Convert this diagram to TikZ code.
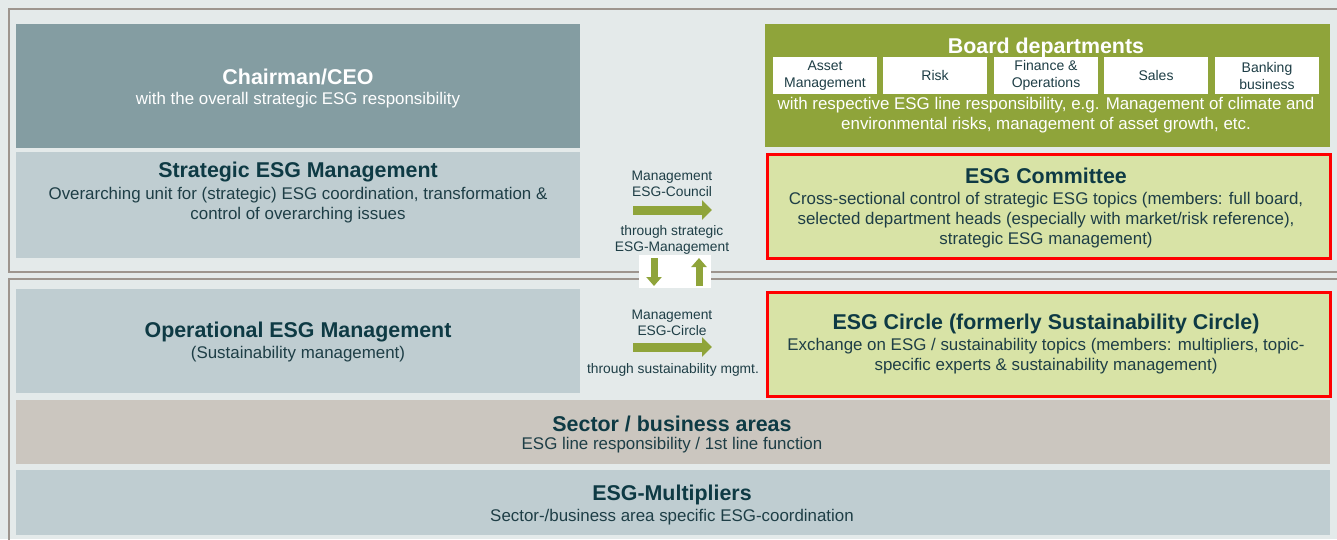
\documentclass[tikz,border=0pt]{standalone}
\usepackage{fontspec}
\setmainfont{Liberation Sans}
\usetikzlibrary{arrows.meta}
\definecolor{bgc}{HTML}{E4EAEA}
\definecolor{framec}{HTML}{9D958E}
\definecolor{chairc}{HTML}{849DA2}
\definecolor{lightc}{HTML}{BFCDD1}
\definecolor{boardc}{HTML}{8FA43A}
\definecolor{commc}{HTML}{D8E3A6}
\definecolor{sectc}{HTML}{CBC6BF}
\definecolor{darkt}{HTML}{0E3A44}
\definecolor{bodyt}{HTML}{1E3E46}
\definecolor{arrc}{HTML}{8FA43A}
\tikzset{
  box/.style={draw=none, inner sep=0pt, anchor=north west},
  redbox/.style={draw=red, line width=3pt, inner sep=0pt, anchor=north west},
  ttl/.style={font=\bfseries\fontsize{21.4}{24}\selectfont, text=darkt, inner sep=0pt},
  bdy/.style={font=\fontsize{16.9}{20}\selectfont, text=bodyt, inner sep=0pt, align=center},
  sml/.style={font=\fontsize{13.8}{16.5}\selectfont, text=bodyt, inner sep=0pt, align=center},
  dept/.style={fill=white, minimum width=104pt, minimum height=37pt, inner sep=0pt,
     font=\fontsize{14}{17}\selectfont, text=bodyt, align=center},
  harrow/.style={draw=arrc, line width=9pt, -{Triangle[length=10pt,width=19pt]}},
  varrow/.style={draw=arrc, line width=7pt, -{Triangle[length=9pt,width=15pt]}},
  frame/.style={draw=framec, line width=2pt}
}
\begin{document}
\begin{tikzpicture}[x=1pt,y=-1pt]
\useasboundingbox (0,0) rectangle (1337,539);
\fill[bgc] (0,0) rectangle (1337,539);
% frames
\draw[frame] (8.5,9) rectangle (1350,272);
\draw[frame] (8.5,279) rectangle (1350,560);
% boxes
\node[box, fill=chairc, minimum width=564pt, minimum height=124pt] (chair) at (16,24) {};
\node[box, fill=lightc, minimum width=564pt, minimum height=106pt] (strat) at (16,152) {};
\node[box, fill=boardc, minimum width=565pt, minimum height=123pt] (board) at (765,24) {};
\node[redbox, fill=commc, minimum width=563pt, minimum height=104pt] (comm) at (765.5,152.5) {};
\node[box, fill=lightc, minimum width=564pt, minimum height=104pt] (oper) at (16,289) {};
\node[redbox, fill=commc, minimum width=563pt, minimum height=104pt] (circ) at (765.5,290.5) {};
\node[box, fill=sectc, minimum width=1314pt, minimum height=64pt] (sect) at (16,400) {};
\node[box, fill=lightc, minimum width=1314pt, minimum height=65pt] (mult) at (16,470) {};
% texts
\node[ttl, text=white] (chairT) at (298,77) {Chairman/CEO};
\node[bdy, text=white] (chairB) at (298,100) {with the overall strategic ESG responsibility};
\node[ttl] (stratT) at (298,172.5) {Strategic ESG Management};
\node[bdy] (stratB) at (298,205) {Overarching unit for (strategic) ESG coordination, transformation \&\\control of overarching issues};
\node[ttl, text=white] (boardT) at (1046,47.5) {Board departments};
\node[dept] (d1) at (825,75.5) {Asset\\Management};
\node[dept] (d2) at (935,75.5) {Risk};
\node[dept] (d3) at (1046,75.5) {Finance \&\\Operations};
\node[dept] (d4) at (1156,75.5) {Sales};
\node[dept] (d5) at (1267,75.5) {Banking\\business};
\node[bdy, text=white] (boardB) at (1046,115.5) {with respective ESG line responsibility, e.g. Management of climate and\\environmental risks, management of asset growth, etc.};
\node[ttl] (commT) at (1046,175.5) {ESG Committee};
\node[bdy] (commB) at (1046,220) {Cross-sectional control of strategic ESG topics (members: full board,\\selected department heads (especially with market/risk reference),\\strategic ESG management)};
\node[ttl] (operT) at (298,332.5) {Operational ESG Management};
\node[bdy] (operB) at (298,354) {(Sustainability management)};
\node[ttl] (circT) at (1046,323.5) {ESG Circle (formerly Sustainability Circle)};
\node[bdy] (circB) at (1046,356) {Exchange on ESG / sustainability topics (members: multipliers, topic-\\specific experts \& sustainability management)};
\node[ttl] (sectT) at (672,423.5) {Sector / business areas};
\node[bdy] (sectB) at (672,445) {ESG line responsibility / 1st line function};
\node[ttl] (multT) at (672,494.5) {ESG-Multipliers};
\node[bdy] (multB) at (672,517) {Sector-/business area specific ESG-coordination};
% middle labels and arrows
\node[sml] (m1) at (672,184) {Management\\ESG-Council};
\coordinate (a1s) at (633,210);
\coordinate (a1e) at (712,210);
\draw[harrow] (a1s) -- (a1e);
\node[sml] (m2) at (672,240) {through strategic\\ESG-Management};
\node[fill=white, minimum width=72pt, minimum height=33pt, inner sep=0pt] (wb) at (675,271.5) {};
\coordinate (dvs) at (654,258);
\coordinate (dve) at (654,286);
\draw[varrow] (dvs) -- (dve);
\coordinate (uvs) at (699,286);
\coordinate (uve) at (699,258);
\draw[varrow] (uvs) -- (uve);
\node[sml] (m3) at (672,323) {Management\\ESG-Circle};
\coordinate (a2s) at (633,347);
\coordinate (a2e) at (712,347);
\draw[harrow] (a2s) -- (a2e);
\node[sml] (m4) at (673,370) {through sustainability mgmt.};
\end{tikzpicture}
\end{document}
